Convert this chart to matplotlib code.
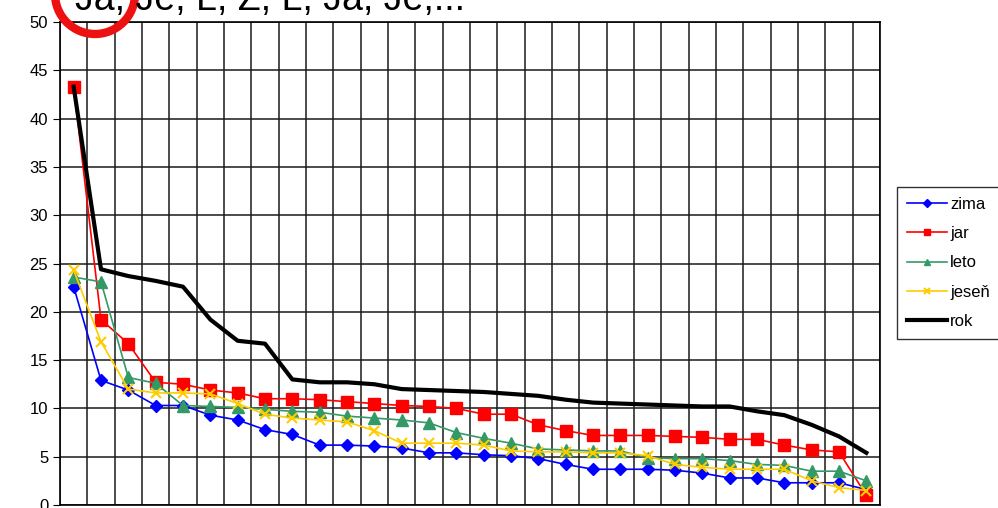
import numpy as np
import matplotlib.pyplot as plt
from matplotlib.patches import Ellipse

plt.rcParams['font.family'] = ['Liberation Sans', 'DejaVu Sans']

poradie = list(range(1, 31))

zima = [22.6, 12.9, 11.9, 10.3, 10.3, 9.3, 8.8, 7.8, 7.3, 6.2,
        6.2, 6.1, 5.9, 5.4, 5.4, 5.2, 5.1, 4.8, 4.2, 3.7,
        3.7, 3.7, 3.6, 3.3, 2.8, 2.8, 2.3, 2.3, 2.3, 1.6]
jar = [43.3, 19.2, 16.7, 12.7, 12.5, 11.9, 11.6, 11.0, 11.0, 10.9,
       10.7, 10.5, 10.3, 10.2, 10.0, 9.4, 9.4, 8.3, 7.7, 7.2,
       7.2, 7.2, 7.1, 7.0, 6.8, 6.8, 6.2, 5.7, 5.5, 1.0]
leto = [23.6, 23.1, 13.2, 12.6, 10.3, 10.2, 10.1, 9.9, 9.7, 9.6,
        9.2, 9.0, 8.8, 8.5, 7.5, 6.9, 6.4, 5.8, 5.7, 5.6,
        5.6, 4.9, 4.8, 4.8, 4.6, 4.2, 4.1, 3.5, 3.5, 2.5]
jesen = [24.3, 16.9, 12.0, 11.6, 11.6, 11.5, 10.5, 9.4, 9.0, 8.8,
         8.6, 7.7, 6.4, 6.4, 6.4, 6.2, 5.6, 5.5, 5.5, 5.4,
         5.4, 5.1, 4.2, 3.9, 3.7, 3.7, 3.7, 2.5, 1.8, 1.5]
rok = [43.3, 24.4, 23.7, 23.2, 22.6, 19.2, 17.0, 16.7, 13.0, 12.7,
       12.7, 12.5, 12.0, 11.9, 11.8, 11.7, 11.5, 11.3, 10.9, 10.6,
       10.5, 10.4, 10.3, 10.2, 10.2, 9.7, 9.3, 8.3, 7.1, 5.4]

W, H = 998, 508
fig = plt.figure(figsize=(W / 100, H / 100), dpi=100)
ax = fig.add_axes([60 / W, 3 / H, 820 / W, 483 / H])

ax.plot(poradie, zima, color='#0000FF', lw=1.2, marker='D', ms=6.5, label='zima')
ax.plot(poradie, jar, color='#FF0000', lw=1.2, marker='s', ms=8, label='jar')
ax.plot(poradie, leto, color='#339966', lw=1.2, marker='^', ms=8, label='leto')
ax.plot(poradie, jesen, color='#FFCC00', lw=1.2, marker='x', ms=7, mew=1.5, label='jeseň')
ax.plot(poradie, rok, color='black', lw=3, label='rok')

ax.set_xlim(0.5, 30.5)
ax.set_ylim(0, 50)
ax.set_yticks(np.arange(0, 51, 5))
ax.set_xticks(np.arange(0.5, 31, 1))
ax.set_xticklabels([])
ax.tick_params(axis='y', labelsize=12, length=5, color='black')
ax.tick_params(axis='x', length=0)
ax.grid(True, color='#1a1a1a', lw=1.1)
ax.set_axisbelow(True)
for s in ax.spines.values():
    s.set_color('black')
    s.set_linewidth(1.2)

leg = ax.legend(loc='center left', bbox_to_anchor=(897 / W, 1 - 263 / H),
                bbox_transform=fig.transFigure, fontsize=12, frameon=True,
                fancybox=False, edgecolor='black', markerscale=0.6,
                handlelength=2.4, handletextpad=0.2, borderpad=0.6,
                labelspacing=0.85, borderaxespad=0)
leg.get_frame().set_linewidth(1)

fig.text(75 / W, 1 - 10 / H, 'Ja, Je, L, Z, L, Ja, Je,...', fontsize=27,
         ha='left', va='baseline')
fig.patches.append(Ellipse((95 / W, 1 + 6 / H), 80 / W, 80 / H,
                           transform=fig.transFigure, fill=False,
                           edgecolor='#EE1111', lw=6))

fig.savefig('out.png', dpi=100)
